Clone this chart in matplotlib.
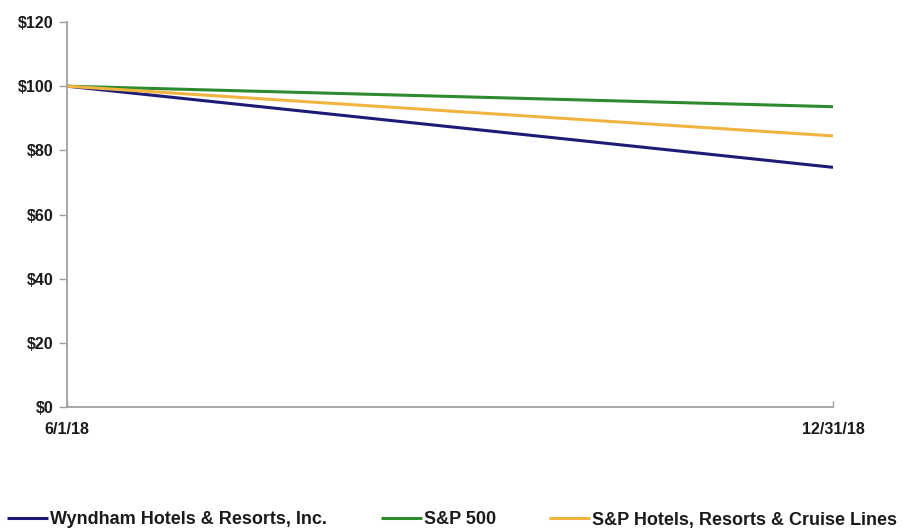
import matplotlib
matplotlib.use("Agg")
import matplotlib.pyplot as plt
from matplotlib.ticker import FuncFormatter

dates = ["6/1/18", "12/31/18"]
wyndham = [100, 74.7]
sp500 = [100, 93.6]
sp_hotels = [100, 84.5]

series = [
    ("Wyndham Hotels & Resorts, Inc.", wyndham, "#1c1c78"),
    ("S&P 500", sp500, "#2e8a2e"),
    ("S&P Hotels, Resorts & Cruise Lines", sp_hotels, "#f2b441"),
]

plt.rcParams['font.family'] = ['Liberation Sans', 'DejaVu Sans']

fig = plt.figure(figsize=(9.07, 5.29), dpi=100)
ax = fig.add_axes([67/907, 1-407/529, (833-67)/907, (407-22)/529])

x = list(range(len(dates)))
lines = []
for name, vals, col in series:
    ln, = ax.plot(x, vals, color=col, lw=2.2, label=name, solid_capstyle='butt')
    lines.append(ln)

ax.set_xlim(0, len(dates)-1)
ax.set_ylim(0, 120)
ax.set_yticks(range(0, 121, 20))
ax.yaxis.set_major_formatter(FuncFormatter(lambda v, p: f"${int(v)}"))
ax.set_xticks(x)
ax.set_xticklabels(dates)

for s in ['top', 'right']:
    ax.spines[s].set_visible(False)
for s in ['left', 'bottom']:
    ax.spines[s].set_color('#a0a0a0')
    ax.spines[s].set_linewidth(1.3)

ax.tick_params(axis='y', direction='out', length=6, width=1, color='#a0a0a0', pad=4,
               labelsize=11.5)
ax.tick_params(axis='x', direction='in', length=4, width=1, color='#a0a0a0', pad=11,
               labelsize=11.5)
for lbl in ax.get_xticklabels() + ax.get_yticklabels():
    lbl.set_fontweight('bold')
    lbl.set_color('#1a1a1a')

legend_x = [7/907, 381/907, 549/907]
for ln, lx in zip(lines, legend_x):
    leg = fig.legend(handles=[ln], loc='center left', bbox_to_anchor=(lx, 1-520/529),
                     frameon=False, handlelength=2.25, handletextpad=0.12,
                     borderaxespad=0, borderpad=0,
                     prop={'weight': 'bold', 'size': 13})
    for t in leg.get_texts():
        t.set_color('#1a1a1a')

fig.savefig("out.png", dpi=100)
